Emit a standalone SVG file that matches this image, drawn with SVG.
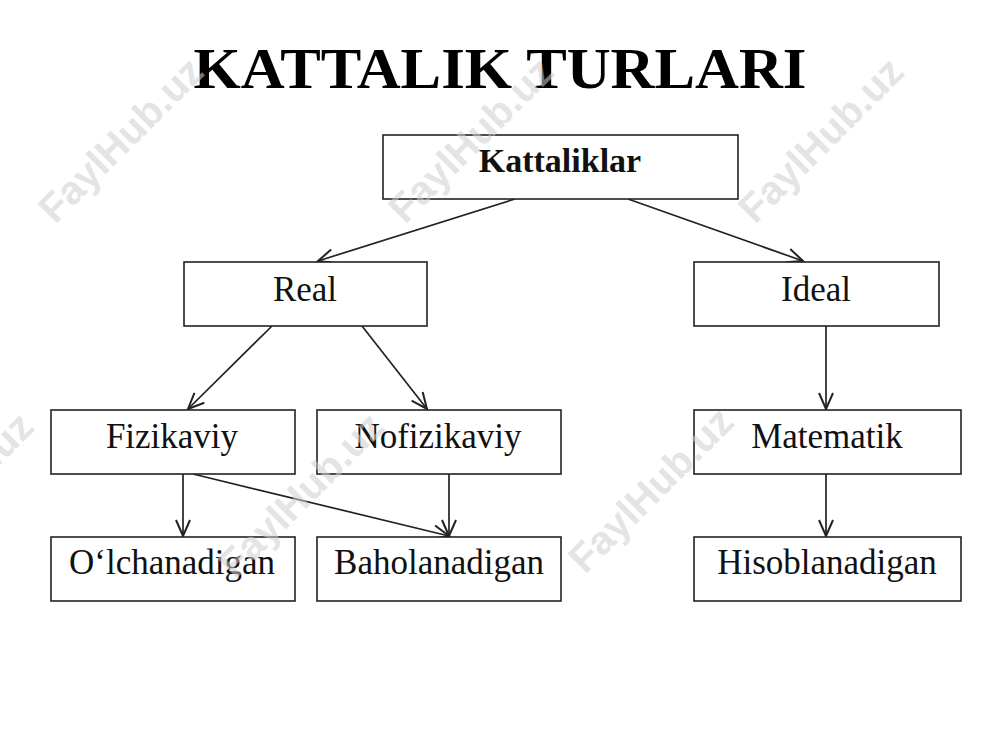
<svg xmlns="http://www.w3.org/2000/svg" width="1000" height="750" viewBox="0 0 1000 750">
  <style>
    .box { fill: #ffffff; stroke: #222222; stroke-width: 1.6; }
    .lbl { font-family: "Liberation Serif", "Times New Roman", serif; font-size: 35px; fill: #111111; text-anchor: middle; }
    .bold { font-weight: bold; font-size: 34px; }
    .title { font-family: "Liberation Serif", "Times New Roman", serif; font-weight: bold; font-size: 58px; fill: #000000; text-anchor: middle; }
    .edge { stroke: #222222; stroke-width: 1.7; fill: none; marker-end: url(#arr); }
    .wm { font-family: "Liberation Sans", Arial, sans-serif; font-weight: bold; font-size: 40px; fill: #cfcfcf; opacity: 0.55; }
  </style>
  <defs>
    <marker id="arr" markerUnits="userSpaceOnUse" markerWidth="20" markerHeight="20" viewBox="0 0 20 20" refX="18" refY="10" orient="auto">
      <path d="M2,3 L18,10 L2,17" fill="none" stroke="#222222" stroke-width="2"/>
    </marker>
  </defs>
  <rect width="1000" height="750" fill="#ffffff"/>
  <text class="title" x="500" y="88" textLength="613" lengthAdjust="spacingAndGlyphs">KATTALIK TURLARI</text>

  <g id="connectors">
    <line class="edge" x1="515" y1="199" x2="318" y2="261"/>
    <line class="edge" x1="628" y1="199" x2="803" y2="261"/>
    <line class="edge" x1="272" y1="326" x2="188" y2="409"/>
    <line class="edge" x1="362" y1="326" x2="427" y2="409"/>
    <line class="edge" x1="826" y1="326" x2="826" y2="409"/>
    <line class="edge" x1="183" y1="474" x2="183" y2="536"/>
    <line class="edge" x1="193" y1="474" x2="449" y2="536"/>
    <line class="edge" x1="449" y1="474" x2="449" y2="536"/>
    <line class="edge" x1="826" y1="474" x2="826" y2="536"/>
  </g>

  <g id="kattaliklar">
    <rect class="box" x="383" y="135" width="355" height="64"/>
    <text class="lbl bold" x="560" y="172">Kattaliklar</text>
  </g>
  <g id="real">
    <rect class="box" x="184" y="262" width="243" height="64"/>
    <text class="lbl" x="305" y="301">Real</text>
  </g>
  <g id="ideal">
    <rect class="box" x="694" y="262" width="245" height="64"/>
    <text class="lbl" x="816" y="301">Ideal</text>
  </g>
  <g id="fizikaviy">
    <rect class="box" x="51" y="410" width="244" height="64"/>
    <text class="lbl" x="172" y="448">Fizikaviy</text>
  </g>
  <g id="nofizikaviy">
    <rect class="box" x="317" y="410" width="244" height="64"/>
    <text class="lbl" x="438" y="448">Nofizikaviy</text>
  </g>
  <g id="matematik">
    <rect class="box" x="694" y="410" width="267" height="64"/>
    <text class="lbl" x="827" y="448">Matematik</text>
  </g>
  <g id="olchanadigan">
    <rect class="box" x="51" y="537" width="244" height="64"/>
    <text class="lbl" x="172" y="574">O‘lchanadigan</text>
  </g>
  <g id="baholanadigan">
    <rect class="box" x="317" y="537" width="244" height="64"/>
    <text class="lbl" x="439" y="574">Baholanadigan</text>
  </g>
  <g id="hisoblanadigan">
    <rect class="box" x="694" y="537" width="267" height="64"/>
    <text class="lbl" x="827" y="574">Hisoblanadigan</text>
  </g>

  <g id="watermarks">
    <text class="wm" x="55" y="225" transform="rotate(-45 55 225)">FaylHub.uz</text>
    <text class="wm" x="405" y="225" transform="rotate(-45 405 225)">FaylHub.uz</text>
    <text class="wm" x="755" y="225" transform="rotate(-45 755 225)">FaylHub.uz</text>
    <text class="wm" x="-115" y="580" transform="rotate(-45 -115 580)">FaylHub.uz</text>
    <text class="wm" x="235" y="580" transform="rotate(-45 235 580)">FaylHub.uz</text>
    <text class="wm" x="585" y="575" transform="rotate(-45 585 575)">FaylHub.uz</text>
  </g>
</svg>
